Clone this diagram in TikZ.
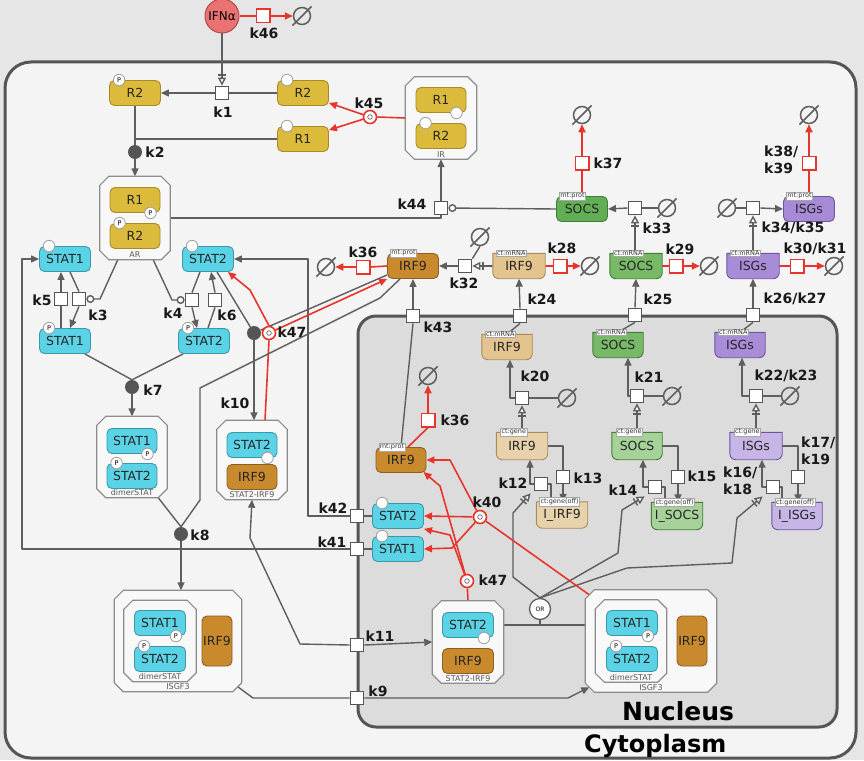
\documentclass[tikz,border=0pt]{standalone}
\usepackage{fontspec}
\setmainfont{DejaVu Sans}
\usetikzlibrary{arrows.meta,calc}
\definecolor{bgout}{HTML}{E6E6E6}
\definecolor{bgcyt}{HTML}{F4F4F4}
\definecolor{bgnuc}{HTML}{DCDCDC}
\definecolor{memb}{HTML}{555555}
\definecolor{gc}{HTML}{5E5E5E}
\definecolor{gc2}{HTML}{555555}
\definecolor{rc}{HTML}{E8352B}
\definecolor{goldf}{HTML}{DCBA3B}\definecolor{goldd}{HTML}{A98B22}
\definecolor{statf}{HTML}{5BD3E6}\definecolor{statd}{HTML}{3B98AA}
\definecolor{irfpf}{HTML}{C88A2C}\definecolor{irfpd}{HTML}{8E6020}
\definecolor{irfmf}{HTML}{E3C48F}\definecolor{irfmd}{HTML}{A98A5A}
\definecolor{irfgf}{HTML}{E8D2AC}
\definecolor{socpf}{HTML}{62AE54}\definecolor{socd}{HTML}{3F7E34}
\definecolor{socmf}{HTML}{78B968}\definecolor{socgf}{HTML}{A6D29A}
\definecolor{isgpf}{HTML}{A78AD6}\definecolor{isgd}{HTML}{6D55A0}
\definecolor{isgmf}{HTML}{A98CD8}\definecolor{isggf}{HTML}{C6B5E6}
\definecolor{ifnf}{HTML}{EA7272}\definecolor{ifnd}{HTML}{B14A4A}
\definecolor{cplxf}{HTML}{F8F8F8}\definecolor{cplxb}{HTML}{8C8C8C}
\newcommand\nodefnt{\fontsize{12.5}{13}\selectfont}
\newcommand\labfnt{\fontsize{14}{17}\selectfont\bfseries}
\pgfdeclarelayer{bg}\pgfdeclarelayer{edges}\pgfsetlayers{bg,edges,main}
\tikzset{
 ln/.style={draw=gc, line width=1.4pt, line join=round},
 arr/.style={ln, -{Triangle[length=8pt,width=7pt]}},
 rln/.style={draw=rc, line width=1.6pt, line join=round},
 rarr/.style={rln, -{Triangle[length=8pt,width=7pt]}},
 nst/.style={ln, -{Bar[width=8pt,sep=2pt]Triangle[length=8pt,width=8pt,fill=white]}},
 cat/.style={ln, -{Circle[length=8pt,fill=white]}},
 proc/.style={rectangle, draw=gc2, fill=white, line width=1.3pt, minimum size=13.5pt, inner sep=0},
 rproc/.style={proc, draw=rc, line width=1.5pt},
 asc/.style={circle, fill=gc2, minimum size=14pt, inner sep=0},
 dis/.style={circle, draw=rc, line width=1.6pt, fill=white, minimum size=13pt, inner sep=0,
   path picture={\draw[gc2, line width=0.6pt] (path picture bounding box.center) circle (2.3pt);}},
 sinkc/.style={circle, draw=gc, line width=1.5pt, minimum size=17pt, inner sep=0},
 mm/.style={rectangle, rounded corners=5pt, minimum width=51pt, minimum height=25pt, inner sep=0, line width=0.9pt, font=\nodefnt, text=black!85},
 cgold/.style={fill=goldf, draw=goldd},
 cstat/.style={fill=statf, draw=statd},
 cirf/.style={fill=irfpf, draw=irfpd},
 csoc/.style={fill=socpf, draw=socd},
 cisg/.style={fill=isgpf, draw=isgd},
 sv/.style={circle, draw=gray!75, fill=white, line width=0.8pt, minimum size=11.5pt, inner sep=0, font=\fontsize{6.5}{6.5}\selectfont},
 uoi/.style={rectangle, draw=gray!70, fill=white, line width=0.5pt, inner sep=1pt, anchor=west, font=\fontsize{6.5}{6.5}\selectfont, text=black!80},
 lab/.style={font=\labfnt, inner sep=0, text=black!90},
 cplxn/.style={rectangle, inner sep=0},
 cplxd/.style={draw=cplxb, fill=cplxf, line width=1.2pt},
 cplxlab/.style={font=\fontsize{8}{8}\selectfont, text=black!65, inner sep=0},
 txt/.style={font=\nodefnt, text=black!85, inner sep=0},
 orn/.style={circle, draw=gc, fill=white, line width=1.3pt, minimum size=21pt, inner sep=0, font=\fontsize{6}{6}\selectfont},
 ifnn/.style={circle, fill=ifnf, draw=ifnd, line width=1pt, minimum size=34pt, inner sep=0, font=\fontsize{12}{12}\selectfont},
}
\newcommand\mksink[3]{\node[sinkc] (#1) at (#2,#3) {};
 \draw[gc, line width=1.5pt] ([shift={(-3pt,-3pt)}]#1.south west) -- ([shift={(3pt,3pt)}]#1.north east);}
\newcommand\cplx[6]{%
 \node[cplxn, minimum width=#4pt, minimum height=#5pt] (#1) at (#2,#3) {};
 \draw[cplxd] ([xshift=9pt]#1.north west) -- ([xshift=-9pt]#1.north east) -- ([yshift=-9pt]#1.north east) -- ([yshift=9pt]#1.south east) -- ([xshift=-9pt]#1.south east) -- ([xshift=9pt]#1.south west) -- ([yshift=9pt]#1.south west) -- ([yshift=-9pt]#1.north west) -- cycle;
 \node[cplxlab] (#1lab) at ([yshift=5pt]#1.south) {#6};}
\newcommand\nacid[8]{%
 \node[inner sep=0, minimum width=#4pt, minimum height=#5pt] (#1) at (#2,#3) {};
 \draw[fill=#6, draw=#7, line width=0.9pt] (#1.north west) -- (#1.north east) -- ([yshift=6pt]#1.south east) arc[start angle=0, end angle=-90, radius=6pt] -- ([xshift=6pt]#1.south west) arc[start angle=270, end angle=180, radius=6pt] -- cycle;
 \node[txt] (#1t) at (#1) {#8};}
\begin{document}
\begin{tikzpicture}[x=1pt,y=-1pt]
\useasboundingbox (0,0) rectangle (864,760);
\begin{pgfonlayer}{bg}
 \fill[bgout] (0,0) rectangle (864,760);
 \draw[memb, line width=3pt, fill=bgcyt, rounded corners=26pt] (5,62) rectangle (856,758);
 \draw[memb, line width=3pt, fill=bgnuc, rounded corners=18pt] (358,316) rectangle (837,727);
\end{pgfonlayer}
% ---------- top ----------
\node[ifnn] (IFN) at (222,16) {IFNα};
\node[rproc] (k46) at (263,16) {};
\mksink{s46}{302}{16}
\node[proc] (k1) at (222,93) {};
\node[mm,cgold] (R2P) at (135,93) {R2};
\node[sv] (R2Psv) at ([xshift=10pt]R2P.north west) {P};
\node[mm,cgold] (R2) at (303,93) {R2};
\node[sv] (R2sv) at ([xshift=10pt]R2.north west) {};
\node[mm,cgold] (R1) at (303,139) {R1};
\node[sv] (R1sv) at ([xshift=10pt]R1.north west) {};
\node[dis] (k45) at (370,117) {};
\cplx{IR}{441}{118}{71}{82}{IR}
\node[mm,cgold,minimum width=50pt] (IRr1) at (441,100) {R1};
\node[sv] (IRr1sv) at ([xshift=-10pt]IRr1.south east) {};
\node[mm,cgold,minimum width=50pt] (IRr2) at (441,136) {R2};
\node[sv] (IRr2sv) at ([xshift=10pt]IRr2.north west) {};
\node[asc] (k2) at (135,152) {};
\cplx{AR}{135}{218}{70}{83}{AR}
\node[mm,cgold,minimum width=50pt] (ARr1) at (135,200) {R1};
\node[sv] (ARr1sv) at ([xshift=-10pt]ARr1.south east) {P};
\node[mm,cgold,minimum width=50pt] (ARr2) at (135,236) {R2};
\node[sv] (ARr2sv) at ([xshift=10pt]ARr2.north west) {P};
\node[proc] (k44) at (441,208) {};
\node[mm,csoc] (SOCSp) at (582,209) {SOCS};
\node[uoi] (SOCSpu) at ([xshift=3pt]SOCSp.north west) {mt:prot};
\node[rproc] (k37) at (582,163) {};
\mksink{s37}{582}{115}
\node[proc] (k33) at (635,208) {};
\mksink{s33}{667}{208}
\node[mm,cisg] (ISGp) at (809,209) {ISGs};
\node[uoi] (ISGpu) at ([xshift=3pt]ISGp.north west) {mt:prot};
\node[rproc] (k38) at (809,163) {};
\mksink{s38}{809}{115}
\node[proc] (k34) at (753,208) {};
\mksink{s34}{727}{208}
% ---------- cytoplasm row ----------
\mksink{s36c}{326}{267}
\node[rproc] (k36c) at (363,267) {};
\node[mm,cirf] (IRF9p) at (413,266) {IRF9};
\node[uoi] (IRF9pu) at ([xshift=3pt]IRF9p.north west) {mt:prot};
\node[proc] (k32) at (465,266) {};
\mksink{s32}{480}{237}
\nacid{IRF9m}{519}{266}{52}{25}{irfmf}{irfmd}{IRF9}
\node[uoi] (IRF9mu) at ([xshift=3pt]IRF9m.north west) {ct:mRNA};
\node[rproc] (k28) at (560,266) {};
\mksink{s28}{590}{266}
\nacid{SOCSm}{636}{266}{52}{25}{socmf}{socd}{SOCS}
\node[uoi] (SOCSmu) at ([xshift=3pt]SOCSm.north west) {ct:mRNA};
\node[rproc] (k29) at (676,266) {};
\mksink{s29}{709}{266}
\nacid{ISGm}{753}{266}{52}{25}{isgmf}{isgd}{ISGs}
\node[uoi] (ISGmu) at ([xshift=3pt]ISGm.north west) {ct:mRNA};
\node[rproc] (k30) at (797,266) {};
\mksink{s30}{834}{266}
\node[proc] (k43) at (413,316) {};
\node[proc] (k24) at (520,316) {};
\node[proc] (k25) at (635,315) {};
\node[proc] (k26) at (753,315) {};
% ---------- nucleus ----------
\nacid{IRF9mn}{507}{347}{50}{25}{irfmf}{irfmd}{IRF9}
\node[uoi] (IRF9mnu) at ([xshift=3pt]IRF9mn.north west) {ct:mRNA};
\nacid{SOCSmn}{618}{345}{50}{25}{socmf}{socd}{SOCS}
\node[uoi] (SOCSmnu) at ([xshift=3pt]SOCSmn.north west) {ct:mRNA};
\nacid{ISGmn}{740}{345}{50}{25}{isgmf}{isgd}{ISGs}
\node[uoi] (ISGmnu) at ([xshift=3pt]ISGmn.north west) {ct:mRNA};
\node[proc] (k20) at (522,398) {}; \mksink{s20}{567}{398}
\node[proc] (k21) at (637,396) {}; \mksink{s21}{672}{396}
\node[proc] (k22) at (756,396) {}; \mksink{s22}{790}{396}
\nacid{IRF9g}{522}{446}{51}{27}{irfgf}{irfmd}{IRF9}
\node[uoi] (IRF9gu) at ([xshift=4pt]IRF9g.north west) {ct:gene};
\nacid{SOCSg}{637}{446}{50}{27}{socgf}{socd}{SOCS}
\node[uoi] (SOCSgu) at ([xshift=4pt]SOCSg.north west) {ct:gene};
\nacid{ISGg}{756}{446}{52}{27}{isggf}{isgd}{ISGs}
\node[uoi] (ISGgu) at ([xshift=4pt]ISGg.north west) {ct:gene};
\node[proc] (k12) at (541,484) {};
\node[proc] (k13) at (563,477) {};
\node[proc] (k14) at (655,487) {};
\node[proc] (k15) at (678,477) {};
\node[proc] (k16) at (773,487) {};
\node[proc] (k17) at (798,477) {};
\nacid{IIRF9}{562}{515}{51}{26}{irfgf}{irfmd}{I\_IRF9}
\node[uoi] (IIRF9u) at ([xshift=3pt]IIRF9.north west) {ct:gene(off)};
\nacid{ISOCS}{677}{516}{51}{27}{socgf}{socd}{I\_SOCS}
\node[uoi] (ISOCSu) at ([xshift=3pt]ISOCS.north west) {ct:gene(off)};
\nacid{IISG}{797}{516}{50}{27}{isggf}{isgd}{I\_ISGs}
\node[uoi] (IISGu) at ([xshift=3pt]IISG.north west) {ct:gene(off)};
\node[orn] (OR) at (540,609) {OR};
\coordinate (orIn) at (540,625);
\node[mm,cirf,minimum width=50pt] (IRF9n) at (401,460) {IRF9};
\node[uoi] (IRF9nu) at ([xshift=3pt]IRF9n.north west) {mt:prot};
\node[rproc] (k36n) at (428,420) {};
\mksink{s36n}{428}{376}
\node[dis] (k40) at (480,517) {};
\node[dis] (k47n) at (467,581) {};
\node[mm,cstat] (STAT2n) at (398,516) {STAT2};
\node[sv] (STAT2nsv) at ([xshift=10pt]STAT2n.north west) {};
\node[mm,cstat] (STAT1n) at (398,549) {STAT1};
\node[sv] (STAT1nsv) at ([xshift=10pt]STAT1n.north west) {};
\node[proc] (k42) at (357,516) {};
\node[proc] (k41) at (357,549) {};
\node[proc] (k11) at (357,645) {};
\node[proc] (k9) at (357,698) {};
\cplx{S2I9n}{468}{642}{71}{82}{STAT2-IRF9}
\node[mm,cstat] (S2I9nS) at (468,625) {STAT2};
\node[sv] (S2I9nSsv) at ([xshift=-10pt]S2I9nS.south east) {};
\node[mm,cirf] (S2I9nI) at (468,661) {IRF9};
\cplx{ISGF3n}{651}{641}{131}{102}{ISGF3}
\cplx{dimn}{631}{641}{71}{82}{dimerSTAT}
\node[mm,cstat] (dimnS1) at (632,623) {STAT1};
\node[sv] (dimnS1sv) at ([xshift=-10pt]dimnS1.south east) {P};
\node[mm,cstat] (dimnS2) at (632,659) {STAT2};
\node[sv] (dimnS2sv) at ([xshift=10pt]dimnS2.north west) {P};
\node[mm,cirf,minimum width=30pt,minimum height=50pt] (ISGF3nI) at (692,641) {IRF9};
% ---------- cytoplasm left ----------
\node[mm,cstat] (STAT1c) at (65,259) {STAT1};
\node[sv] (STAT1csv) at ([xshift=10pt]STAT1c.north west) {};
\node[mm,cstat] (STAT2c) at (208,259) {STAT2};
\node[sv] (STAT2csv) at ([xshift=10pt]STAT2c.north west) {};
\node[mm,cstat] (STAT1P) at (65,341) {STAT1};
\node[sv] (STAT1Psv) at ([xshift=10pt]STAT1P.north west) {P};
\node[mm,cstat] (STAT2P) at (204,341) {STAT2};
\node[sv] (STAT2Psv) at ([xshift=10pt]STAT2P.north west) {P};
\node[proc] (k5) at (61,299) {};
\node[proc] (k3) at (79,299) {};
\node[proc] (k4) at (192,300) {};
\node[proc] (k6) at (215,300) {};
\node[asc] (k7) at (132,387) {};
\cplx{dimc}{132}{457}{70}{81}{dimerSTAT}
\node[mm,cstat,minimum width=50pt] (dimcS1) at (132,441) {STAT1};
\node[sv] (dimcS1sv) at ([xshift=-10pt]dimcS1.south east) {P};
\node[mm,cstat,minimum width=50pt] (dimcS2) at (132,476) {STAT2};
\node[sv] (dimcS2sv) at ([xshift=10pt]dimcS2.north west) {P};
\node[asc] (k10) at (254,333) {};
\node[dis] (k47c) at (269,333) {};
\cplx{S2I9c}{252}{460}{70}{79}{STAT2-IRF9}
\node[mm,cstat,minimum width=50pt] (S2I9cS) at (252,445) {STAT2};
\node[sv] (S2I9cSsv) at ([xshift=-10pt]S2I9cS.south east) {};
\node[mm,cirf,minimum width=50pt] (S2I9cI) at (252,477) {IRF9};
\node[asc] (k8) at (181,534) {};
\cplx{ISGF3c}{178}{641}{127}{101}{ISGF3}
\cplx{dimc2}{160}{641}{72}{81}{dimerSTAT}
\node[mm,cstat] (dimc2S1) at (160,623) {STAT1};
\node[sv] (dimc2S1sv) at ([xshift=-10pt]dimc2S1.south east) {P};
\node[mm,cstat] (dimc2S2) at (160,659) {STAT2};
\node[sv] (dimc2S2sv) at ([xshift=10pt]dimc2S2.north west) {P};
\node[mm,cirf,minimum width=30pt,minimum height=50pt] (ISGF3cI) at (217,641) {IRF9};
% ---------- bend coordinates ----------
\coordinate (b1) at (513,577); \coordinate (b2) at (513,513);
\coordinate (b4) at (618,553); \coordinate (b5) at (622,510);
\coordinate (b6) at (627,568); \coordinate (b7) at (732,563); \coordinate (b8) at (737,518);
\coordinate (b9) at (452,548); \coordinate (b10) at (450,460);
\coordinate (b11) at (440,486); \coordinate (b12) at (450,535);
\coordinate (b13) at (300,644); \coordinate (b14) at (250,538);
\coordinate (b15) at (253,698); \coordinate (b16) at (568,698);
\coordinate (b17) at (100,299); \coordinate (b18) at (172,300);
\coordinate (b19) at (250,290);
\coordinate (b20) at (380,298); \coordinate (b21) at (200,388); \coordinate (b22) at (200,500);
\coordinate (c42) at (308,259); \coordinate (c41) at (22,259);
\coordinate (i3c) at ([shift={(4pt,-5pt)}]ISGF3n.north west);
\coordinate (i3a) at ([shift={(-4pt,5pt)}]ISGF3c.south east);
\coordinate (i3b) at ([shift={(4pt,5pt)}]ISGF3n.south west);
% ---------- connectors ----------
\begin{pgfonlayer}{edges}
\draw[nst] (IFN.south) -- (k1.north);
\draw[rln] (IFN.east) -- (k46.west);
\draw[rarr] (k46.east) -- (s46.west);
\draw[ln] (R2.west) -- (k1.east);
\draw[arr] (k1.west) -- (R2P.east);
\draw[ln] (R2P.south) -- (k2.north);
\draw[ln] (R1.west) -- (R1.west -| k2.north);
\draw[arr] (k2.south) -- (AR.north);
\draw[rln] (IR.west) -- (k45.east);
\draw[rarr] (k45) -- ([yshift=3pt]R2.south east);
\draw[rarr] (k45) -- ([yshift=-4pt]R1.north east);
\draw[ln] (AR.east) -- (AR.east -| k44.south) -- (k44.south);
\draw[arr] (k44.north) -- (IR.south);
\draw[cat] (SOCSp.west) -- (k44.east);
\draw[rln] (SOCSp.north) -- (k37.south);
\draw[rarr] (k37.north) -- (s37.south);
\draw[ln] (s33.west) -- (k33.east);
\draw[arr] (k33.west) -- (SOCSp.east);
\draw[nst] (k33.south |- SOCSm.north) -- (k33.south);
\draw[rln] (ISGp.north) -- (k38.south);
\draw[rarr] (k38.north) -- (s38.south);
\draw[ln] (s34.east) -- (k34.west);
\draw[arr] (k34.east) -- (ISGp.west);
\draw[nst] (k34.south |- ISGm.north) -- (k34.south);
\draw[rln] (IRF9p.west) -- (k36c.east);
\draw[rarr] (k36c.west) -- (s36c.east);
\draw[arr] (k32.west) -- (IRF9p.east);
\draw[ln] (s32.south) -- (k32.north east);
\draw[nst] (IRF9m.west) -- (k32.east);
\draw[rln] (IRF9m.east) -- (k28.west);
\draw[rarr] (k28.east) -- (s28.west);
\draw[rln] (SOCSm.east) -- (k29.west);
\draw[rarr] (k29.east) -- (s29.west);
\draw[rln] (ISGm.east) -- (k30.west);
\draw[rarr] (k30.east) -- (s30.west);
\draw[arr] (k24.north) -- (IRF9m.south);
\draw[ln] (IRF9mn.north) -- (k24.south);
\draw[arr] (k25.north) -- (SOCSm.south);
\draw[ln] (SOCSmn.north) -- (k25.south);
\draw[arr] (k26.north) -- (ISGm.south);
\draw[ln] (ISGmn.north) -- (k26.south);
\draw[arr] (k43.north) -- (IRF9p.south);
\draw[ln] (IRF9n.north) -- (k43.south);
\draw[arr] (k20.west) -| ([xshift=3pt]IRF9mn.south);
\draw[ln] (s20.west) -- (k20.east);
\draw[nst] (IRF9g.north) -- (k20.south);
\draw[arr] (k21.west) -| ([xshift=10pt]SOCSmn.south);
\draw[ln] (s21.west) -- (k21.east);
\draw[nst] (SOCSg.north) -- (k21.south);
\draw[arr] (k22.west) -| ([xshift=2pt]ISGmn.south);
\draw[ln] (s22.west) -- (k22.east);
\draw[nst] (ISGg.north) -- (k22.south);
\draw[arr] (k12.west) -| ([xshift=8pt]IRF9g.south);
\draw[ln] (k12.east) -| ([xshift=-11pt]IIRF9.north);
\draw[ln] (IRF9g.east) -| (k13.north);
\draw[arr] (k13.south) -- (k13.south |- IIRF9.north);
\draw[arr] (k14.west) -| ([xshift=6pt]SOCSg.south);
\draw[ln] (k14.east) -| ([xshift=-12pt]ISOCS.north);
\draw[ln] (SOCSg.east) -| (k15.north);
\draw[arr] (k15.south) -- (k15.south |- ISOCS.north);
\draw[arr] (k16.west) -| ([xshift=6pt]ISGg.south);
\draw[ln] (k16.east) -| ([xshift=-15pt]IISG.north);
\draw[ln] (ISGg.east) -| (k17.north);
\draw[arr] (k17.south) -- (k17.south |- IISG.north);
\draw[ln] (S2I9n.east |- orIn) -- (ISGF3n.west |- orIn);
\draw[ln] (orIn) -- (OR.south);
\draw[nst] (OR.north) -- (b1) -- (b2) -- ([shift={(-3pt,-2pt)}]k12.south west);
\draw[nst] (OR.north) -- (b4) -- (b5) -- ([shift={(-3pt,-2pt)}]k14.south west);
\draw[nst] (OR.north) -- (b6) -- (b7) -- (b8) -- ([shift={(-3pt,-2pt)}]k16.south west);
\draw[rln] (i3c) -- (k40);
\draw[rarr] (k40) -- (STAT2n.east);
\draw[rarr] (k40) -- (b9) -- (STAT1n.east);
\draw[rarr] (k40) -- (b10) -- (IRF9n.east);
\draw[rln] (S2I9n.north) -- (k47n);
\draw[rarr] (k47n) -- (b11) -- ([shift={(-3pt,1pt)}]IRF9n.south east);
\draw[rarr] (k47n) -- (b12) -- (STAT2n.south east);
\draw[rln] ([xshift=7pt]IRF9n.north) -- (k36n.south);
\draw[rarr] (k36n.north) -- (s36n.south);
\draw[ln] (STAT2n.west) -- (k42.east);
\draw[arr] (k42.west) -| (c42) -- (STAT2c.east);
\draw[ln] (STAT1n.west) -- (k41.east);
\draw[arr] (k41.west) -| (c41) -- (STAT1c.west);
\draw[arr] (k11.east) -- (S2I9n.west);
\draw[arr] (k11.west) -- (b13) -- (b14) -- (S2I9c.south);
\draw[ln] (i3a) -- (b15) -- (k9.west);
\draw[arr] (k9.east) -- (b16) -- (i3b);
\draw[ln] (k5.south |- STAT1P.north) -- (k5.south);
\draw[arr] (k5.north) -- (k5.north |- STAT1c.south);
\draw[ln] ([xshift=5pt]STAT1c.south) -- (k3.north);
\draw[arr] (k3.south) -- ([xshift=5pt]STAT1P.north);
\draw[cat] ([xshift=18pt]AR.south west) -- (b17) -- (k3.east);
\draw[cat] ([xshift=-17pt]AR.south east) -- (b18) -- (k4.west);
\draw[ln] ([xshift=-8pt]STAT2c.south) -- (k4.north);
\draw[arr] (k4.south) -- ([xshift=-7pt]STAT2P.north);
\draw[ln] ([xshift=4pt]STAT2P.north) -- (k6.south);
\draw[arr] (k6.north) -- ([xshift=3pt]STAT2c.south);
\draw[ln] ([xshift=-6pt]STAT1P.south east) -- (k7.north);
\draw[ln] ([xshift=5pt]STAT2P.south west) -- (k7.north);
\draw[arr] (k7.south) -- (dimc.north);
\draw[ln] ([xshift=9pt]STAT2c.south) -- (k10);
\draw[ln] ([yshift=4pt]IRF9p.south west) -- (k10);
\draw[arr] (k10.south) -- (k10.south |- S2I9c.north);
\draw[rln] ([xshift=13pt]S2I9c.north) -- (k47c.south);
\draw[rarr] (k47c.north) -- (b19) -- ([xshift=-6pt]STAT2c.south east);
\draw[rarr] (k47c) -- (IRF9p.south west);
\draw[ln] ([xshift=-13pt]IRF9p.south) -- (b20) -- (b21) -- (b22) -- (k8.north);
\draw[ln] ([xshift=-9pt]dimc.south east) -- (k8.north);
\draw[arr] (k8.south) -- (k8.south |- ISGF3c.north);
\end{pgfonlayer}
% ---------- labels ----------
\node[lab] (L46) at (264,33) {k46};
\node[lab] (L1) at (223,112) {k1};
\node[lab] (L2) at (155,152) {k2};
\node[lab] (L45) at (369,103) {k45};
\node[lab] (L44) at (412,204) {k44};
\node[lab] (L37) at (608,163) {k37};
\node[lab, align=left, anchor=west] (L38) at (764,160) {k38/\\k39};
\node[lab] (L33) at (657,228) {k33};
\node[lab] (L34) at (793,228) {k34/k35};
\node[lab] (L36c) at (363,252) {k36};
\node[lab] (L32) at (464,283) {k32};
\node[lab] (L28) at (562,248) {k28};
\node[lab] (L29) at (680,249) {k29};
\node[lab] (L30) at (815,249) {k30/k31};
\node[lab] (L43) at (438,327) {k43};
\node[lab] (L24) at (542,299) {k24};
\node[lab] (L25) at (658,299) {k25};
\node[lab] (L26) at (795,299) {k26/k27};
\node[lab] (L20) at (535,376) {k20};
\node[lab] (L21) at (649,377) {k21};
\node[lab] (L22) at (786,376) {k22/k23};
\node[lab] (L36n) at (455,420) {k36};
\node[lab] (L12) at (513,483) {k12};
\node[lab] (L13) at (588,478) {k13};
\node[lab] (L14) at (623,490) {k14};
\node[lab] (L15) at (702,476) {k15};
\node[lab, align=left, anchor=west] (L16) at (723,481) {k16/\\k18};
\node[lab, align=left, anchor=west] (L17) at (801,451) {k17/\\k19};
\node[lab] (L40) at (487,502) {k40};
\node[lab] (L47n) at (493,580) {k47};
\node[lab] (L42) at (333,508) {k42};
\node[lab] (L41) at (332,542) {k41};
\node[lab] (L11) at (380,636) {k11};
\node[lab] (L9) at (378,691) {k9};
\node[lab] (L5) at (42,300) {k5};
\node[lab] (L3) at (98,315) {k3};
\node[lab] (L4) at (173,313) {k4};
\node[lab] (L6) at (227,315) {k6};
\node[lab] (L7) at (153,390) {k7};
\node[lab] (L10) at (235,403) {k10};
\node[lab] (L47c) at (292,332) {k47};
\node[lab] (L8) at (200,535) {k8};
\node[anchor=base west, inner sep=0, font=\fontsize{25}{25}\selectfont\bfseries] (Lnuc) at (622,720) {Nucleus};
\node[anchor=base west, inner sep=0, font=\fontsize{24}{24}\selectfont\bfseries] (Lcyt) at (584,752) {Cytoplasm};
\end{tikzpicture}
\end{document}
